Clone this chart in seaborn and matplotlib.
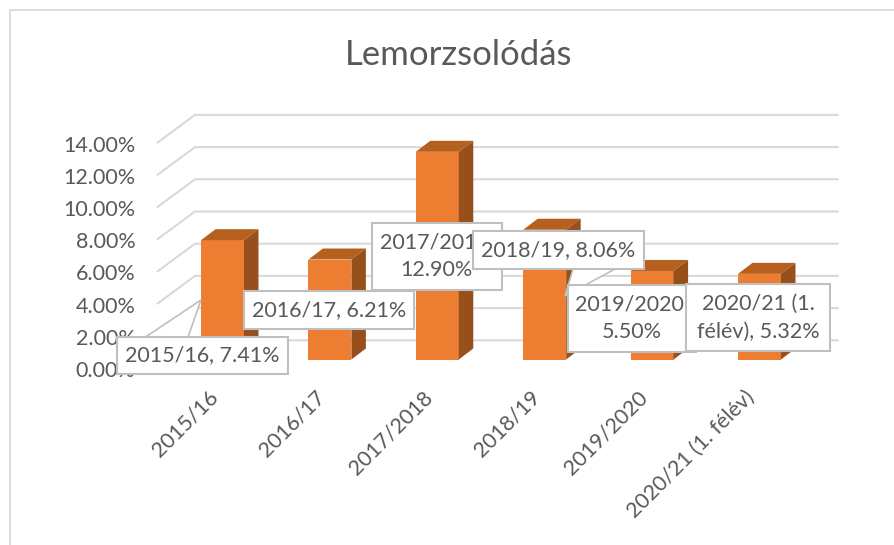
import matplotlib
matplotlib.use("Agg")
import matplotlib.pyplot as plt
import pandas as pd
import seaborn as sns
from matplotlib.patches import Polygon, Rectangle
from matplotlib.ticker import FuncFormatter
from matplotlib.transforms import Affine2D, ScaledTranslation

categories = ["2015/16", "2016/17", "2017/2018", "2018/19", "2019/2020", "2020/21 (1. félév)"]
dropout = [7.41, 6.21, 12.90, 8.06, 5.50, 5.32]
y_ticks = [0, 2, 4, 6, 8, 10, 12, 14]

# label text, box (left, top, right, bottom) in picture pixels, callout triangle or None
labels = [
    ("2015/16, 7.41%", (117, 337, 288, 374), [(145.5, 337), (201, 300), (188, 337)]),
    ("2016/17, 6.21%", (244, 291, 414, 329), None),
    ("2017/2018,\n12.90%", (372, 223, 501.5, 290), None),
    ("2018/19, 8.06%", (473, 231, 644, 269), [(573, 269), (565, 296), (615, 269)]),
    ("2019/2020,\n5.50%", (568, 285, 696, 352), None),
    ("2020/21 (1.\nfélév), 5.32%", (686, 284, 830, 351), None),
]

TEXT = "#595959"
GRID = "#D9D9D9"
W, H = 895, 545
PX_X = 107.4   # pixels per category
PX_Y = 16.1    # pixels per percent
BASE_Y = 359.5
FIRST_X = 222.5

sns.set_theme(style="white")
plt.rcParams["font.family"] = ["Lato", "DejaVu Sans"]

fig = plt.figure(figsize=(W / 100, H / 100), dpi=100)
left = FIRST_X - PX_X / 2
ax = fig.add_axes([left / W, 1 - BASE_Y / H, 6 * PX_X / W, 14 * PX_Y / H])

df = pd.DataFrame({"tanev": categories, "lemorzsolodas": dropout})
sns.barplot(data=df, x="tanev", y="lemorzsolodas", color="#ED7D31", saturation=1,
            width=0.4, ax=ax, zorder=3, linewidth=0)
ax.set_xlim(-0.5, 5.5)
ax.set_ylim(0, 14)
ax.set_xlabel("")
ax.set_ylabel("")
sns.despine(ax=ax, left=True, bottom=True, top=True, right=True)

# 3d look: depth of the bars and of the walls, pixels turned into data units
bar_dx, bar_dy = 14.5 / PX_X, 11 / PX_Y
half = 0.2
for i, v in enumerate(dropout):
    ax.add_patch(Polygon([(i - half, v), (i - half + bar_dx, v + bar_dy),
                          (i + half + bar_dx, v + bar_dy), (i + half, v)],
                         fc="#B5601F", ec="none", clip_on=False, zorder=3))
    ax.add_patch(Polygon([(i + half, 0), (i + half + bar_dx, bar_dy),
                          (i + half + bar_dx, v + bar_dy), (i + half, v)],
                         fc="#97501B", ec="none", clip_on=False, zorder=3))

wall_x0 = (157.5 - FIRST_X) / PX_X
wall_x1 = (195 - FIRST_X) / PX_X
wall_x2 = (838 - FIRST_X) / PX_X
front_dy = (BASE_Y - 368) / PX_Y
back_dy = (BASE_Y - 340.3) / PX_Y
for t in y_ticks:
    ax.plot([wall_x0, wall_x1, wall_x2], [t + front_dy, t + back_dy, t + back_dy],
            color=GRID, lw=1.5, clip_on=False, zorder=1, solid_joinstyle="miter")

ax.set_yticks(y_ticks)
ax.yaxis.set_major_formatter(FuncFormatter(lambda v, _: f"{v:.2f}%"))
ax.tick_params(axis="y", length=0, pad=24, labelsize=15.5, labelcolor=TEXT)
shift = ScaledTranslation(0, -9.5 / 100, fig.dpi_scale_trans)
for lab in ax.get_yticklabels():
    lab.set_transform(lab.get_transform() + shift)
ax.tick_params(axis="x", length=0, pad=20, labelsize=15.5, labelcolor=TEXT)
ax.set_xticks(range(len(categories)))
ax.set_xticklabels(categories, rotation=45, ha="right", rotation_mode="anchor")
shift_x = ScaledTranslation(-15 / 100, 0, fig.dpi_scale_trans)
for lab in ax.get_xticklabels():
    lab.set_transform(lab.get_transform() + shift_x)

# picture pixels, origin top left
px = Affine2D().scale(1, -1).translate(0, H)

for n, (txt, (x0, y0, x1, y1), tip) in enumerate(labels):
    z = 10 + n
    if tip:
        ax.add_patch(Polygon(tip, closed=False, fc="white", ec="#BFBFBF", lw=1.2,
                             transform=px, clip_on=False, zorder=z))
    ax.add_patch(Rectangle((x0, y0), x1 - x0, y1 - y0, fc="white", ec="#BFBFBF", lw=1.5,
                           transform=px, clip_on=False, zorder=z))
    ax.text((x0 + x1) / 2, (y0 + y1) / 2, txt, transform=px, ha="center", va="center",
            fontsize=15.5, color=TEXT, linespacing=1.5, zorder=z, clip_on=False)

# chart frame and title
fig.add_artist(plt.Line2D([10, 10, W], [H, 10, 10], color=GRID, lw=1.3, transform=px))
fig.text(458.5 / W, 1 - 55 / H, "Lemorzsolódás", ha="center", va="center",
         fontsize=25, color=TEXT)

fig.savefig("out.png", dpi=100)
